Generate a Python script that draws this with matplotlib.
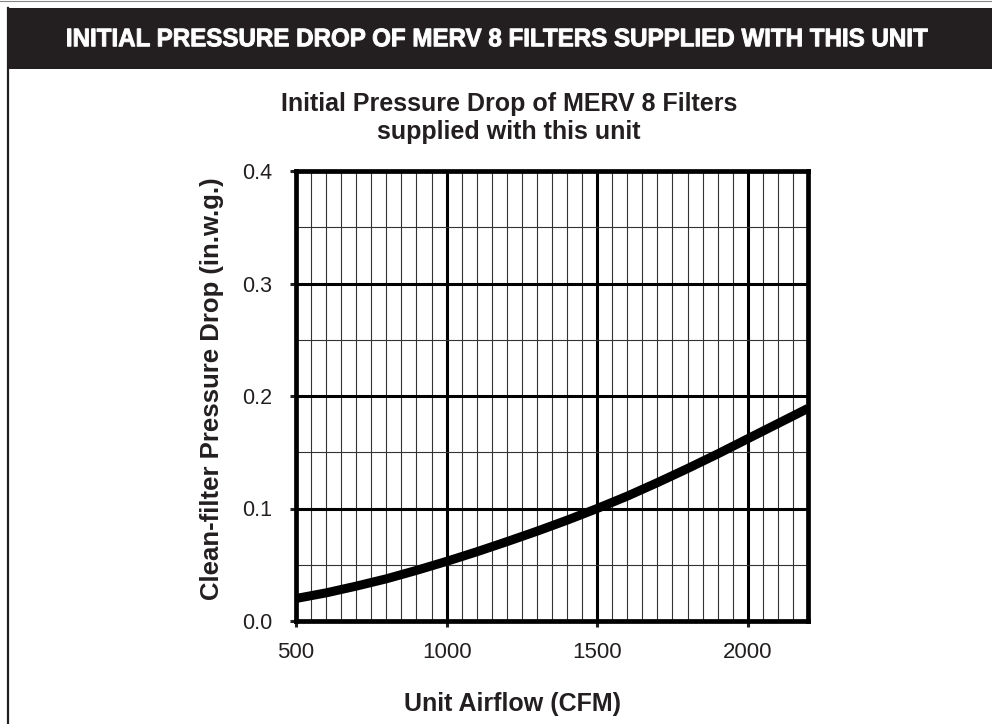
import matplotlib
matplotlib.use("Agg")
import matplotlib.pyplot as plt
from matplotlib.patches import Rectangle, PathPatch
from matplotlib.lines import Line2D
from matplotlib.ticker import MultipleLocator
from matplotlib.textpath import TextPath
from matplotlib.font_manager import FontProperties
from matplotlib.transforms import Affine2D

airflow = [500, 600, 700, 800, 900, 1000, 1100, 1200, 1300, 1400, 1500,
           1600, 1700, 1800, 1900, 2000, 2100, 2200]
pressure_drop = [0.0200, 0.0250, 0.0310, 0.0375, 0.0450, 0.0530, 0.0615, 0.0705,
                 0.0798, 0.0896, 0.1000, 0.1110, 0.1230, 0.1355, 0.1485, 0.1620,
                 0.1755, 0.1890]
x_ticks = [500, 1000, 1500, 2000]
y_ticks = [0.0, 0.1, 0.2, 0.3, 0.4]

header = "INITIAL PRESSURE DROP OF MERV 8 FILTERS SUPPLIED WITH THIS UNIT"
title_lines = ["Initial Pressure Drop of MERV 8 Filters", "supplied with this unit"]
xlabel = "Unit Airflow (CFM)"
ylabel = "Clean-filter Pressure Drop (in.w.g.)"

plt.rcParams['font.family'] = ['Liberation Sans', 'DejaVu Sans']

W, H = 992, 724
fig = plt.figure(figsize=(W / 100, H / 100), dpi=100)

# pixel (y down) -> figure fraction
px = Affine2D().scale(1 / W, -1 / H).translate(0, 1) + fig.transFigure

# header bar and frame
fig.patches.append(Rectangle((7, 69), W - 7, -61, transform=px,
                             facecolor='#231f20', edgecolor='none', zorder=0))
fig.lines.append(Line2D([0, W], [0.5, 0.5], transform=px, color='#888888', lw=0.8))
fig.lines.append(Line2D([7.5, 7.5], [8, H], transform=px, color='#231f20', lw=1.6))

# condensed header text: bold glyph outlines squeezed to the header's extent
tp = TextPath((0, 0), header, size=20,
              prop=FontProperties(family='Liberation Sans', weight='bold'))
bb = tp.get_extents()
x0, x1, ytop, ybase = 67.5, 927.5, 28.5, 46.5
sx = (x1 - x0) / bb.width
sy = (ybase - ytop) / bb.height
path_tr = Affine2D().translate(-bb.x0, -bb.y0).scale(sx, -sy).translate(x0, ybase)
fig.patches.append(PathPatch(path_tr.transform_path(tp), transform=px,
                             facecolor='white', edgecolor='white', lw=0.7,
                             zorder=1))

ax = fig.add_axes([296 / W, 1 - 621 / H, (808 - 296) / W, (621 - 171) / H])
ax.plot(airflow, pressure_drop, color='black', lw=6.5, solid_capstyle='butt',
        solid_joinstyle='round', zorder=5)
ax.set_xlim(500, 2200)
ax.set_ylim(0, 0.4)
ax.set_xticks(x_ticks)
ax.set_yticks(y_ticks)
ax.set_yticklabels([f"{v:.1f}" for v in y_ticks])
ax.xaxis.set_minor_locator(MultipleLocator(50))
ax.yaxis.set_minor_locator(MultipleLocator(0.05))
ax.grid(which='major', color='black', lw=2.2, zorder=2)
ax.grid(which='minor', color='#333333', lw=0.8, zorder=1)
ax.set_axisbelow(True)
ax.tick_params(which='minor', length=0)
ax.tick_params(which='major', direction='out', length=4, width=2.2,
               colors='#231f20', labelcolor='#231f20')
ax.tick_params(axis='x', labelsize=16, pad=11)
ax.tick_params(axis='y', labelsize=15.5, pad=13)
for s in ax.spines.values():
    s.set_linewidth(3.4)
    s.set_zorder(6)

txt_color = '#231f20'
fig.text(509, 111, title_lines[0], transform=px, ha='center', va='baseline',
         fontsize=18, fontweight='bold', color=txt_color)
fig.text(509, 139, title_lines[1], transform=px, ha='center', va='baseline',
         fontsize=18, fontweight='bold', color=txt_color)
fig.text(512, 711, xlabel, transform=px, ha='center', va='baseline',
         fontsize=18, fontweight='bold', color=txt_color)
fig.text(212, 389, ylabel, transform=px, ha='center', va='center', rotation=90,
         fontsize=18.5, fontweight='bold', color=txt_color)

fig.savefig("out.png", dpi=100)
